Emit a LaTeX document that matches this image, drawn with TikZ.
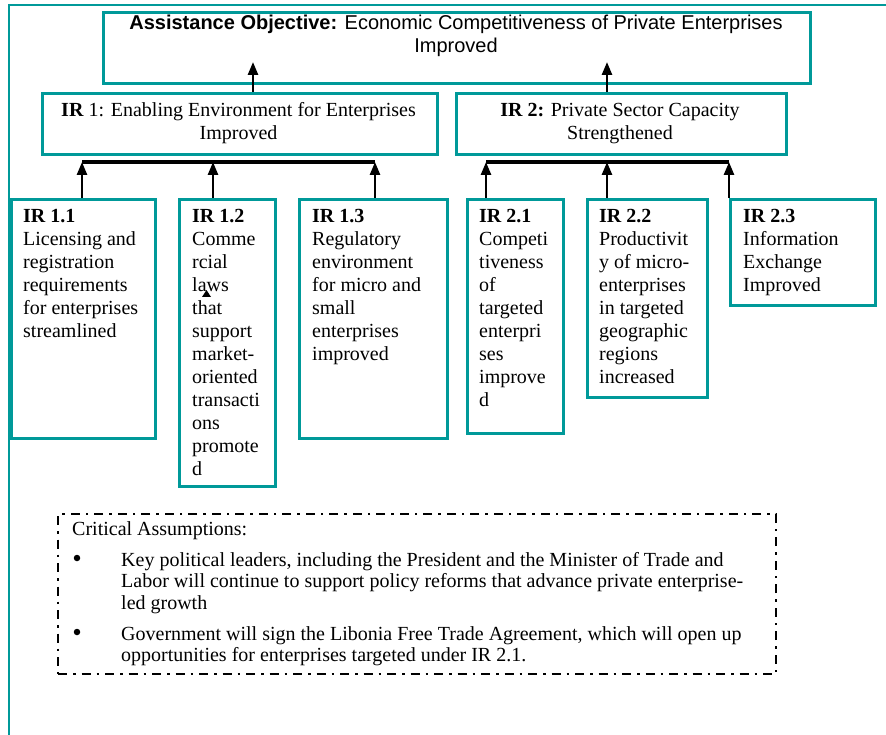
\documentclass[tikz,border=0pt]{standalone}
\usepackage{fontspec}
\setmainfont{Liberation Serif}
\newfontfamily\arialf{Liberation Sans}
\usetikzlibrary{arrows.meta}
\definecolor{tealline}{RGB}{0,153,153}
\newcommand{\Llines}[1]{\begin{tabular}[t]{@{}l@{}}#1\end{tabular}}
\newcommand{\Clines}[1]{\begin{tabular}[t]{@{}c@{}}#1\end{tabular}}
\begin{document}
\begin{tikzpicture}[x=1pt,y=-1pt,
  box/.style={draw=tealline, line width=2.6pt, inner sep=0pt, anchor=north west},
  arr/.style={draw=black, line width=2.6pt, -{Triangle[length=13pt,width=10pt]}},
  bar/.style={draw=black, line width=3.2pt},
  txt/.style={inner sep=0pt, anchor=base west, font=\fontsize{20}{23}\selectfont},
  ctxt/.style={inner sep=0pt, anchor=base, font=\fontsize{20}{23}\selectfont},
  frame/.style={draw=tealline, line width=2.6pt},
  bulletdot/.style={circle, fill=black, inner sep=0pt, minimum size=6.5pt},
]
\useasboundingbox (0,0) rectangle (886,735);
% outer frame
\coordinate (fa) at (9,735);
\coordinate (fb) at (9,5);
\coordinate (fc) at (886,5);
\draw[frame] (fa) -- (fb) -- (fc);

% boxes
\node[box, minimum width=707, minimum height=71] (top) at (102,11) {};
\node[box, minimum width=395, minimum height=61] (ir1) at (41,92) {};
\node[box, minimum width=330, minimum height=61] (ir2) at (455,92) {};
\node[box, minimum width=144, minimum height=239] (ir11) at (10,198) {};
\node[box, minimum width=96, minimum height=287] (ir12) at (178,198) {};
\node[box, minimum width=148, minimum height=239] (ir13) at (298,198) {};
\node[box, minimum width=96, minimum height=234] (ir21) at (466,198) {};
\node[box, minimum width=120, minimum height=198] (ir22) at (586,198) {};
\node[box, minimum width=145, minimum height=106] (ir23) at (729,198) {};

% texts
\node[ctxt, font=\arialf\fontsize{20}{23}\selectfont] (toptxt) at (456,30)
  {\Clines{\textbf{Assistance Objective:} Economic Competitiveness of Private Enterprises\\Improved}};
\node[ctxt] (ir1txt) at (238.5,117) {\Clines{\textbf{IR} 1: Enabling Environment for Enterprises\\Improved}};
\node[ctxt] (ir2txt) at (620,117) {\Clines{\textbf{IR 2:} Private Sector Capacity\\Strengthened}};

\node[txt] (ir11txt) at (23,223) {\Llines{\textbf{IR 1.1}\\Licensing and\\registration\\requirements\\for enterprises\\streamlined}};
\node[txt] (ir12txt) at (192,223) {\Llines{\textbf{IR 1.2}\\Comme\\rcial\\laws\\that\\support\\market-\\oriented\\transacti\\ons\\promote\\d}};
\node[txt] (ir13txt) at (312,223) {\Llines{\textbf{IR 1.3}\\Regulatory\\environment\\for micro and\\small\\enterprises\\improved}};
\node[txt] (ir21txt) at (479,223) {\Llines{\textbf{IR 2.1}\\Competi\\tiveness\\of\\targeted\\enterpri\\ses\\improve\\d}};
\node[txt] (ir22txt) at (599,223) {\Llines{\textbf{IR 2.2}\\Productivit\\y of micro-\\enterprises\\in targeted\\geographic\\regions\\increased}};
\node[txt] (ir23txt) at (743,223) {\Llines{\textbf{IR 2.3}\\Information\\Exchange\\Improved}};

% stray triangle
\fill (202,297) -- (211,297) -- (206.5,290) -- cycle;

% arrows to top
\coordinate (t1) at (253,62);
\coordinate (t2) at (607,62);
\draw[arr] (t1 |- ir1.north) -- (t1);
\draw[arr] (t2 |- ir2.north) -- (t2);

% bars
\coordinate (b1a) at (82,162);
\coordinate (b1b) at (213,162);
\coordinate (b1c) at (375,162);
\coordinate (b2a) at (486,162);
\coordinate (b2b) at (607,162);
\coordinate (b2c) at (729,162);
\draw[bar] (b1a) -- (b1c);
\draw[bar] (b2a) -- (b2c);
\draw[arr] (b1a |- ir11.north) -- (b1a);
\draw[arr] (b1b |- ir12.north) -- (b1b);
\draw[arr] (b1c |- ir13.north) -- (b1c);
\draw[arr] (b2a |- ir21.north) -- (b2a);
\draw[arr] (b2b |- ir22.north) -- (b2b);
\draw[arr] (b2c |- ir23.north) -- (b2c);

% critical assumptions
\node[draw=black, line width=2.4pt, dash pattern=on 9pt off 6pt on 2.5pt off 6pt,
  minimum width=718, minimum height=160, inner sep=0pt, anchor=north west] (ca) at (57,513) {};
\node[txt] (catitle) at (72,535) {Critical Assumptions:};
\node[bulletdot] (bul1) at (77,558) {};
\node[bulletdot] (bul2) at (77,632) {};
\node[txt, font=\fontsize{20}{21.5}\selectfont] (ca1) at (121,566) {\Llines{Key political leaders, including the President and the Minister of Trade and\\Labor will continue to support policy reforms that advance private enterprise-\\led growth}};
\node[txt, font=\fontsize{20}{21.5}\selectfont] (ca2) at (121,640) {\Llines{Government will sign the Libonia Free Trade Agreement, which will open up\\opportunities for enterprises targeted under IR 2.1.}};
\end{tikzpicture}
\end{document}
